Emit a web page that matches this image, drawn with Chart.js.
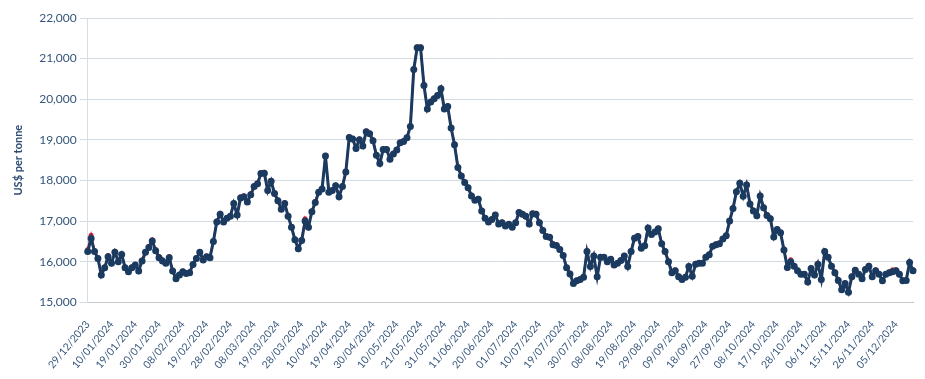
<!DOCTYPE html>
<html>
<head>
<meta charset="utf-8">
<script src="https://cdn.jsdelivr.net/npm/chart.js@4.4.1/dist/chart.umd.min.js"></script>
<style>
  html, body { margin: 0; padding: 0; background: #ffffff; }
  #wrap { position: relative; width: 925px; height: 379px; }
</style>
</head>
<body>
<div id="wrap"><canvas id="c" width="925" height="379"></canvas></div>
<script>
// Trading-day categories
const dates = [
'29/12/2023',
'02/01/2024','03/01/2024','04/01/2024','05/01/2024','08/01/2024','09/01/2024','10/01/2024','11/01/2024','12/01/2024','15/01/2024','16/01/2024','17/01/2024','18/01/2024','19/01/2024','22/01/2024','23/01/2024','24/01/2024','25/01/2024','26/01/2024','29/01/2024','30/01/2024','31/01/2024',
'01/02/2024','02/02/2024','05/02/2024','06/02/2024','07/02/2024','08/02/2024','09/02/2024','12/02/2024','13/02/2024','14/02/2024','15/02/2024','16/02/2024','19/02/2024','20/02/2024','21/02/2024','22/02/2024','23/02/2024','26/02/2024','27/02/2024','28/02/2024','29/02/2024',
'01/03/2024','04/03/2024','05/03/2024','06/03/2024','07/03/2024','08/03/2024','11/03/2024','12/03/2024','13/03/2024','14/03/2024','15/03/2024','18/03/2024','19/03/2024','20/03/2024','21/03/2024','22/03/2024','25/03/2024','26/03/2024','27/03/2024','28/03/2024',
'02/04/2024','03/04/2024','04/04/2024','05/04/2024','08/04/2024','09/04/2024','10/04/2024','11/04/2024','12/04/2024','15/04/2024','16/04/2024','17/04/2024','18/04/2024','19/04/2024','22/04/2024','23/04/2024','24/04/2024','25/04/2024','26/04/2024','29/04/2024','30/04/2024',
'01/05/2024','02/05/2024','03/05/2024','07/05/2024','08/05/2024','09/05/2024','10/05/2024','13/05/2024','14/05/2024','15/05/2024','16/05/2024','17/05/2024','20/05/2024','21/05/2024','22/05/2024','23/05/2024','24/05/2024','28/05/2024','29/05/2024','30/05/2024','31/05/2024',
'03/06/2024','04/06/2024','05/06/2024','06/06/2024','07/06/2024','10/06/2024','11/06/2024','12/06/2024','13/06/2024','14/06/2024','17/06/2024','18/06/2024','19/06/2024','20/06/2024','21/06/2024','24/06/2024','25/06/2024','26/06/2024','27/06/2024','28/06/2024',
'01/07/2024','02/07/2024','03/07/2024','04/07/2024','05/07/2024','08/07/2024','09/07/2024','10/07/2024','11/07/2024','12/07/2024','15/07/2024','16/07/2024','17/07/2024','18/07/2024','19/07/2024','22/07/2024','23/07/2024','24/07/2024','25/07/2024','26/07/2024','29/07/2024','30/07/2024','31/07/2024',
'01/08/2024','02/08/2024','05/08/2024','06/08/2024','07/08/2024','08/08/2024','09/08/2024','12/08/2024','13/08/2024','14/08/2024','15/08/2024','16/08/2024','19/08/2024','20/08/2024','21/08/2024','22/08/2024','23/08/2024','27/08/2024','28/08/2024','29/08/2024','30/08/2024',
'02/09/2024','03/09/2024','04/09/2024','05/09/2024','06/09/2024','09/09/2024','10/09/2024','11/09/2024','12/09/2024','13/09/2024','16/09/2024','17/09/2024','18/09/2024','19/09/2024','20/09/2024','23/09/2024','24/09/2024','25/09/2024','26/09/2024','27/09/2024','30/09/2024',
'01/10/2024','02/10/2024','03/10/2024','04/10/2024','07/10/2024','08/10/2024','09/10/2024','10/10/2024','11/10/2024','14/10/2024','15/10/2024','16/10/2024','17/10/2024','18/10/2024','21/10/2024','22/10/2024','23/10/2024','24/10/2024','25/10/2024','28/10/2024','29/10/2024','30/10/2024','31/10/2024',
'01/11/2024','04/11/2024','05/11/2024','06/11/2024','07/11/2024','08/11/2024','11/11/2024','12/11/2024','13/11/2024','14/11/2024','15/11/2024','18/11/2024','19/11/2024','20/11/2024','21/11/2024','22/11/2024','25/11/2024','26/11/2024','27/11/2024','28/11/2024','29/11/2024',
'02/12/2024','03/12/2024','04/12/2024','05/12/2024','06/12/2024','09/12/2024','10/12/2024','11/12/2024','12/12/2024'
];

// Main (navy) series, US$ per tonne
const priceMain = [
16250,16570,16250,16080,15670,15850,16120,15960,16230,16000,
16180,15850,15750,15850,15920,15770,16020,16230,16350,16510,
16270,16100,16020,15960,16100,15770,15580,15670,15750,15710,
15730,15930,16080,16230,16040,16120,16100,16500,16980,17170,
16980,17070,17120,17430,17150,17570,17600,17470,17650,17850,
17920,18170,18180,17750,17980,17680,17500,17290,17430,17120,
16850,16540,16320,16520,17000,16850,17230,17460,17710,17790,
18600,17710,17750,17870,17600,17850,18210,19060,19020,18790,
19000,18850,19200,19150,18980,18620,18420,18760,18760,18520,
18650,18750,18930,18960,19050,19330,20730,21270,21270,20340,
19760,19930,20010,20090,20260,19760,19820,19290,18880,18320,
18110,17950,17820,17620,17510,17540,17250,17070,16980,17040,
17150,16930,16960,16880,16920,16850,16960,17210,17170,17120,
16930,17180,17170,16960,16770,16620,16600,16420,16400,16300,
16150,15850,15700,15460,15530,15560,15620,16250,15880,16140,
15630,16110,16110,16000,16060,15920,15960,16030,16140,15880,
16250,16580,16620,16330,16390,16830,16670,16730,16810,16440,
16250,16000,15730,15780,15630,15560,15620,15880,15640,15940,
15960,15960,16110,16170,16380,16420,16440,16560,16640,17000,
17310,17720,17930,17610,17890,17420,17250,17130,17620,17330,
17140,17060,16610,16790,16710,16290,15860,16000,15890,15780,
15690,15690,15500,15830,15670,15940,15560,16250,16110,15890,
15730,15540,15310,15460,15250,15630,15790,15690,15580,15810,
15890,15630,15780,15690,15530,15690,15730,15750,15780,15690,
15530,15540,15980,15780
];

// Second (red) series, drawn underneath
const priceSecond = [
16300,16650,16270,16100,15700,15870,16150,15980,16260,16020,
16200,15870,15770,15870,15940,15790,16040,16250,16380,16540,
16300,16130,16050,15980,16130,15790,15600,15690,15770,15730,
15750,15950,16100,16250,16060,16140,16120,16520,17000,17190,
17000,17090,17140,17450,17170,17600,17620,17490,17670,17870,
17940,18190,18200,17770,18000,17700,17520,17310,17450,17140,
16870,16560,16340,16540,17060,16870,17250,17480,17730,17810,
18620,17730,17770,17890,17620,17870,18230,19080,19040,18810,
19020,18870,19220,19170,19000,18640,18440,18780,18780,18540,
18670,18770,18950,18980,19070,19350,20750,21290,21290,20360,
19780,19950,20030,20110,20280,19780,19840,19310,18900,18340,
18130,17970,17840,17640,17530,17560,17270,17090,17000,17060,
17170,16950,16980,16900,16940,16870,16980,17230,17190,17140,
16950,17200,17190,16980,16790,16640,16620,16440,16420,16320,
16170,15870,15720,15480,15550,15580,15640,16270,15900,16160,
15650,16130,16130,16020,16080,15940,15980,16050,16160,15900,
16270,16600,16640,16350,16410,16850,16690,16750,16830,16460,
16270,16020,15750,15800,15650,15580,15640,15900,15660,15960,
15980,15980,16130,16190,16400,16440,16460,16580,16660,17020,
17330,17740,17950,17630,17910,17440,17270,17150,17640,17350,
17160,17080,16630,16810,16730,16310,15880,16050,15910,15800,
15710,15710,15520,15850,15690,15960,15580,16270,16130,15910,
15750,15560,15360,15480,15270,15650,15810,15710,15600,15830,
15910,15650,15800,15710,15550,15710,15750,15800,15800,15710,
15550,15560,16000,15800
];

// Y-axis ticks
const yTicks = [15000,16000,17000,18000,19000,20000,21000,22000];
const labelStep = 7;

const navy = '#1b3a60';
const red = '#e3263a';
const textColor = '#35557b';

new Chart(document.getElementById('c').getContext('2d'), {
  type: 'line',
  data: {
    labels: dates,
    datasets: [
      {
        label: 'Main',
        data: priceMain,
        borderColor: navy,
        backgroundColor: navy,
        borderWidth: 3,
        pointRadius: 3.5,
        pointBorderWidth: 0,
        pointBackgroundColor: navy,
        tension: 0,
        order: 1
      },
      {
        label: 'Second',
        data: priceSecond,
        borderColor: red,
        backgroundColor: red,
        borderWidth: 2,
        pointRadius: 2.5,
        pointBorderWidth: 0,
        pointBackgroundColor: red,
        tension: 0,
        order: 2
      }
    ]
  },
  options: {
    responsive: false,
    animation: false,
    devicePixelRatio: 1,
    layout: { padding: { left: 12, right: 12, top: 18, bottom: 0 } },
    plugins: {
      legend: { display: false },
      tooltip: { enabled: false }
    },
    scales: {
      x: {
        offset: false,
        grid: { display: false },
        border: { display: true, color: '#c4c8cc', width: 1 },
        ticks: {
          autoSkip: false,
          maxRotation: 50,
          minRotation: 50,
          padding: 8,
          color: textColor,
          font: { family: 'Lato', size: 10.5 },
          callback: function(v, i) { return i % labelStep === 0 ? dates[i] : null; }
        }
      },
      y: {
        min: yTicks[0],
        max: yTicks[yTicks.length - 1],
        afterBuildTicks: function(axis) { axis.ticks = yTicks.map(v => ({ value: v })); },
        grid: { color: '#d3dbe3', lineWidth: 1, tickLength: 8, drawTicks: true },
        border: { display: true, color: '#d9dde2', width: 1 },
        ticks: {
          padding: 3,
          color: textColor,
          font: { family: 'Lato', size: 12 },
          callback: function(v) { return v.toLocaleString('en-US'); }
        },
        title: {
          display: true,
          text: 'US$ per tonne',
          color: '#2a4a72',
          font: { family: 'Lato', size: 11, weight: 'bold' },
          padding: { top: 0, bottom: 11 }
        }
      }
    }
  }
});
</script>
</body>
</html>
